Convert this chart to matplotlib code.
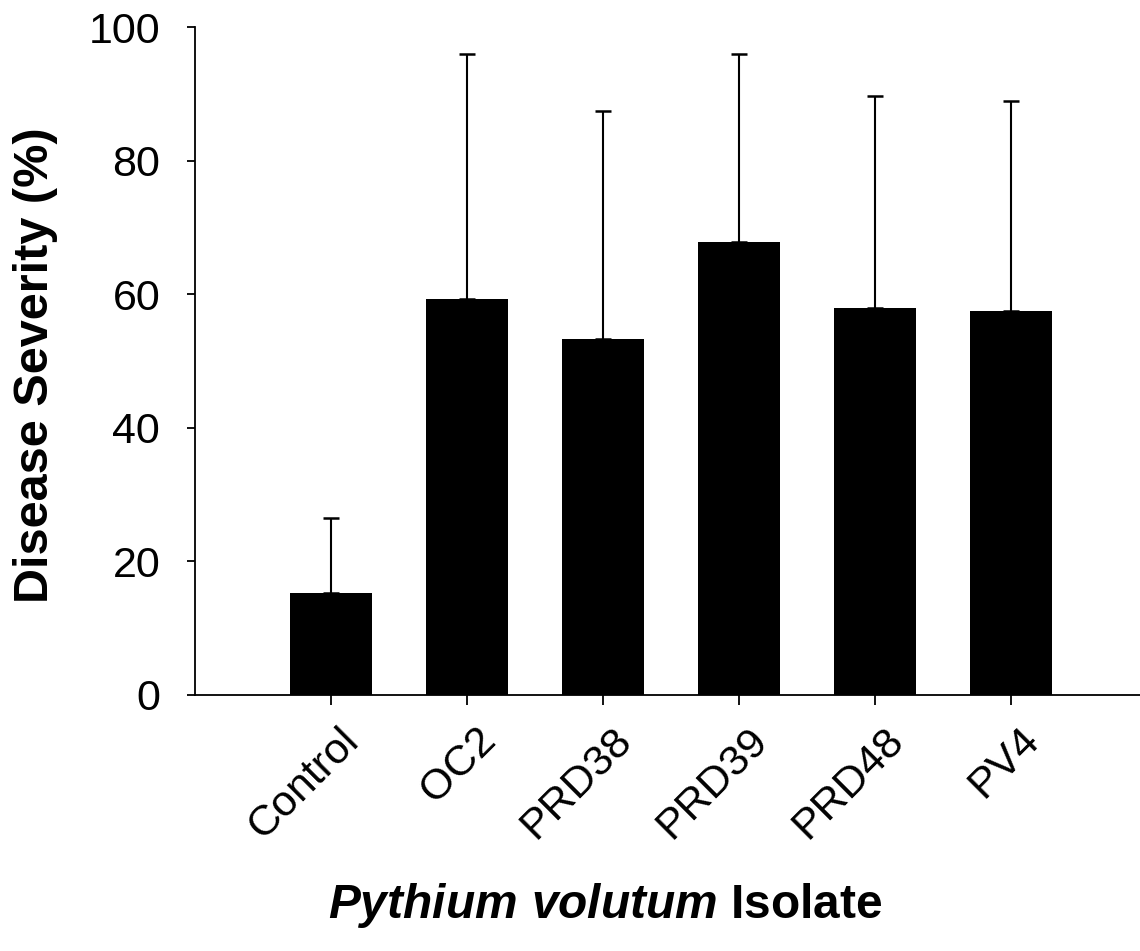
import numpy as np
import matplotlib
matplotlib.use('Agg')
import matplotlib.pyplot as plt
import matplotlib.transforms as mtransforms

plt.rcParams['font.family'] = ['Liberation Sans', 'DejaVu Sans']
plt.rcParams['mathtext.fontset'] = 'custom'
plt.rcParams['mathtext.it'] = 'Liberation Sans:italic:bold'
plt.rcParams['mathtext.rm'] = 'Liberation Sans:bold'

isolates = ['Control', 'OC2', 'PRD38', 'PRD39', 'PRD48', 'PV4']
severity = [15.3, 59.3, 53.3, 67.8, 57.9, 57.5]
upper_err = [11.2, 36.7, 34.1, 28.1, 31.7, 31.4]


def main():
    fig = plt.figure(figsize=(11.4, 9.51), dpi=100)
    ax = fig.add_axes([0.171, 0.2692, 0.829, 0.7024])

    x = np.arange(len(isolates))
    ax.bar(x, severity, width=0.6, color='black', zorder=2)
    ax.errorbar(x, severity, yerr=[np.zeros(len(x)), upper_err], fmt='none',
                ecolor='black', elinewidth=1.5, capsize=6, capthick=1.8, zorder=1)

    ax.set_ylim(0, 100)
    ax.set_xlim(-1.0, 5.95)
    ax.set_yticks([0, 20, 40, 60, 80, 100])
    ax.set_xticks(x)
    ax.set_xticklabels(isolates, rotation=45, ha='right', va='top',
                       rotation_mode='anchor', fontsize=31)
    ax.tick_params(axis='y', labelsize=31, length=6, width=1.3, direction='out', pad=19)
    ax.tick_params(axis='x', length=7, width=1.3, direction='out', pad=11)

    # nudge rotated labels so their ends sit just right of the ticks
    shift = mtransforms.ScaledTranslation(6 / 72, 0, fig.dpi_scale_trans)
    for lab in ax.get_xticklabels():
        lab.set_transform(lab.get_transform() + shift)

    for s in ['top', 'right']:
        ax.spines[s].set_visible(False)
    for s in ['left', 'bottom']:
        ax.spines[s].set_linewidth(1.3)

    fig.text(0.031, 0.616, 'Disease Severity (%)', rotation=90, fontsize=35,
             fontweight='bold', ha='center', va='center')
    fig.text(0.531, 0.048, r'$\mathit{Pythium\ volutum}$ Isolate', fontsize=34.5,
             fontweight='bold', ha='center', va='center')

    fig.savefig('out.png', dpi=100)


if __name__ == "__main__":
    main()
